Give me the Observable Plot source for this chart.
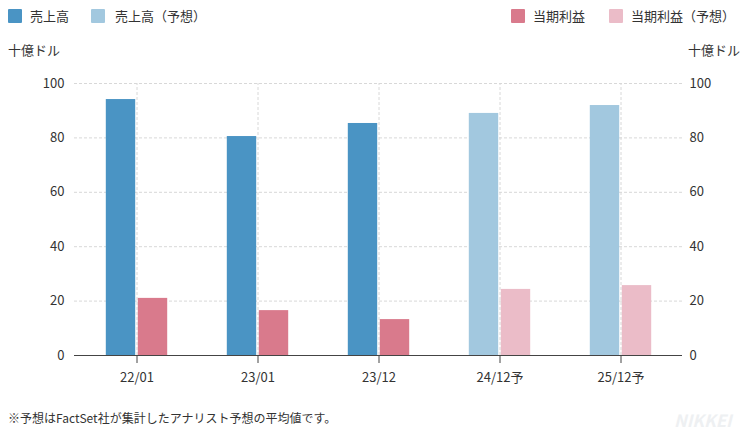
<!DOCTYPE html>
<html><head><meta charset="utf-8">
<script src="https://cdn.jsdelivr.net/npm/d3@7"></script>
<script src="https://cdn.jsdelivr.net/npm/@observablehq/plot@0.6"></script>
<style>
body{margin:0;background:#fff;font-family:"Noto Sans CJK JP","Noto Sans",sans-serif;color:#333}
#wrap{position:relative;width:746px;height:432px;overflow:hidden;background:#fff}
.lg{position:absolute;top:8px;font-size:13px;line-height:16px;white-space:nowrap}
.sw{position:absolute;top:9px;width:14px;height:14px;border-radius:1px}
.unit{position:absolute;top:41px;font-size:13px;line-height:18px}
#chart{position:absolute;left:0;top:40px}
#foot{position:absolute;left:8px;top:410px;font-size:12px;line-height:16px}
#wm{position:absolute;left:674px;top:410px;font-size:17px;line-height:20px;font-weight:bold;font-style:italic;color:#eef0f2}
</style></head>
<body><div id="wrap"></div>
<script>
const categories = ["22/01","23/01","23/12","24/12予","25/12予"];
const sales = [94.1, 80.5, 85.3, 89.0, 91.9];
const profit = [21.0, 16.5, 13.2, 24.3, 25.7];
const forecast = [false, false, false, true, true];
const legendKeys = ["売上高","売上高（予想）","当期利益","当期利益（予想）"];
const legendColors = ["#4a94c4","#a2c8df","#d97a8c","#ebbcc8"];
const yTicks = [0,20,40,60,80,100];

const wrap = document.getElementById("wrap");
const legendPos = [[8,30],[91,115],[511,533],[609,631]];
legendKeys.forEach((k,i)=>{
  const sw=document.createElement("div");sw.className="sw";sw.style.left=legendPos[i][0]+"px";sw.style.background=legendColors[i];wrap.appendChild(sw);
  const t=document.createElement("div");t.className="lg";t.style.left=legendPos[i][1]+"px";t.textContent=k;wrap.appendChild(t);
});
const u1=document.createElement("div");u1.className="unit";u1.style.left="8px";u1.textContent="十億ドル";wrap.appendChild(u1);
const u2=document.createElement("div");u2.className="unit";u2.style.left="688px";u2.textContent="十億ドル";wrap.appendChild(u2);

const salesData = categories.map((c,i)=>({cat:c, v:sales[i], key: forecast[i]?legendKeys[1]:legendKeys[0]}));
const profitData = categories.map((c,i)=>({cat:c, v:profit[i], key: forecast[i]?legendKeys[3]:legendKeys[2]}));

const W=746, ML=74, MR=64;
const band=(W-ML-MR)/categories.length;
const half=band/2;

const chart = Plot.plot({
  width: W, height: 350,
  marginLeft: ML, marginRight: MR, marginTop: 43, marginBottom: 35,
  style:{fontSize:"13px", fontFamily:'"Noto Sans CJK JP","Noto Sans",sans-serif', color:"#333", background:"transparent"},
  x:{domain:categories, padding:0, label:null},
  y:{domain:[0,100], label:null},
  color:{domain:legendKeys, range:legendColors},
  marks:[
    Plot.ruleY(yTicks.filter(d=>d>0), {stroke:"#d8d8d8", strokeDasharray:"3,2"}),
    Plot.ruleX(categories, {x:d=>d, y1:0, y2:100, stroke:"#d8d8d8", strokeDasharray:"3,2"}),
    Plot.barY(salesData, {x:"cat", y:"v", fill:"key", insetLeft:half-31, insetRight:half+1}),
    Plot.barY(profitData, {x:"cat", y:"v", fill:"key", insetLeft:half+1, insetRight:half-31}),
    Plot.ruleY([0], {stroke:"#444", strokeWidth:1.2}),
    Plot.axisX({tickSize:8, tickPadding:9, stroke:"#444", label:null, fill:"#333"}),
    Plot.axisY({anchor:"left", ticks:yTicks, tickSize:0, tickPadding:10, label:null, fill:"#333"}),
    Plot.axisY({anchor:"right", ticks:yTicks, tickSize:0, tickPadding:7, label:null, fill:"#333"})
  ]
});
chart.id="chart";
wrap.appendChild(chart);

const foot=document.createElement("div");foot.id="foot";foot.textContent="※予想はFactSet社が集計したアナリスト予想の平均値です。";wrap.appendChild(foot);
const wm=document.createElement("div");wm.id="wm";wm.textContent="NIKKEI";wrap.appendChild(wm);
</script>
</body></html>
